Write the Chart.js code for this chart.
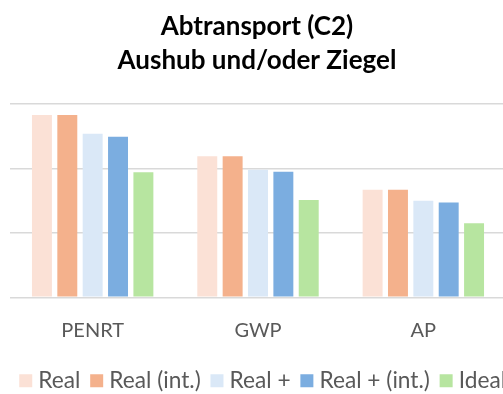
<!DOCTYPE html>
<html>
<head>
<meta charset="utf-8">
<script src="https://cdn.jsdelivr.net/npm/chart.js@4/dist/chart.umd.min.js"></script>
<style>
  html, body { margin: 0; padding: 0; background: #fff; overflow: hidden; }
  #wrap { width: 560px; height: 394px; }
</style>
</head>
<body>
<div id="wrap"><canvas id="c" width="560" height="394"></canvas></div>
<script>
// Impact categories on the x axis
const categories = ['PENRT', 'GWP', 'AP'];

// Series values (relative units, gridline step = 1)
const real        = [2.83, 2.19, 1.67];
const realInt     = [2.83, 2.19, 1.67];
const realPlus    = [2.54, 1.98, 1.50];
const realPlusInt = [2.49, 1.95, 1.47];
const ideal       = [1.94, 1.51, 1.15];

const seriesNames = ['Real', 'Real (int.)', 'Real +', 'Real + (int.)', 'Ideal'];
const seriesData = [real, realInt, realPlus, realPlusInt, ideal];
const seriesColors = ['#FBE1D6', '#F4B18C', '#DAE8F7', '#7BADE0', '#B7E5A0'];

const FONT = 'Lato, "Open Sans", sans-serif';

// The canvas is wider than the visible frame so the legend row fits on one line;
// the title is centred on the visible frame and the legend starts near the left edge.
const TITLE_CENTER = 257;
const LEGEND_INSET = 9.5;
const frameBoxes = {
  id: 'frameBoxes',
  afterUpdate(chart) {
    const t = chart.titleBlock;
    if (t) {
      const dx = TITLE_CENTER - (t.left + t.right) / 2;
      t.left += dx;
      t.right += dx;
    }
    const lg = chart.legend;
    if (lg) {
      const w = lg.right - lg.left;
      lg.left = LEGEND_INSET;
      lg.right = LEGEND_INSET + w;
      lg.adjustHitBoxes();
    }
  }
};

new Chart(document.getElementById('c'), {
  type: 'bar',
  data: {
    labels: categories,
    datasets: seriesNames.map((name, i) => ({
      label: name,
      data: seriesData[i],
      backgroundColor: seriesColors[i],
      borderWidth: 0,
      categoryPercentage: 0.767,
      barPercentage: 0.787
    }))
  },
  plugins: [frameBoxes],
  options: {
    responsive: false,
    animation: false,
    devicePixelRatio: 1,
    layout: { padding: { left: 0, right: 0, top: 0, bottom: -8 } },
    plugins: {
      title: {
        display: true,
        text: ['Abtransport (C2)', 'Aushub und/oder Ziegel'],
        color: '#000000',
        font: { family: FONT, size: 26, weight: 'bold', lineHeight: '34px' },
        padding: { top: 10, bottom: 26 }
      },
      legend: {
        position: 'bottom',
        align: 'start',
        labels: {
          color: '#595959',
          font: { family: FONT, size: 22.7 },
          usePointStyle: true,
          pointStyle: 'rect',
          boxWidth: 2.5,
          boxHeight: 13,
          padding: 15
        }
      },
      tooltip: { enabled: false }
    },
    scales: {
      x: {
        grid: { display: false },
        border: { display: false },
        ticks: { color: '#595959', font: { family: FONT, size: 20 }, padding: 13.5 },
        afterFit(axis) { axis.height = 57; }
      },
      y: {
        min: 0,
        max: 3,
        ticks: { display: false, stepSize: 1 },
        grid: { color: '#D9D9D9', lineWidth: 1.5, drawTicks: false },
        border: { display: false },
        afterFit(axis) { axis.width = 10; }
      },
      yRight: {
        position: 'right',
        min: 0,
        max: 3,
        ticks: { display: false },
        grid: { display: false, drawTicks: false },
        border: { display: false },
        afterFit(axis) { axis.width = 54; }
      }
    }
  }
});
</script>
</body>
</html>
